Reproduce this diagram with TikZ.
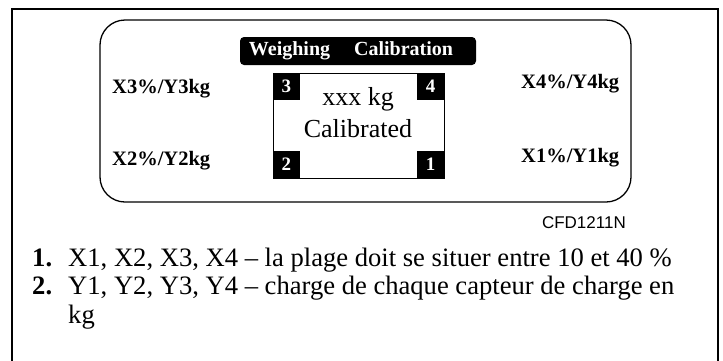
\documentclass[tikz,border=0pt]{standalone}
\usepackage{fontspec}
\setmainfont{Liberation Serif}
\setsansfont{Liberation Sans}
\usetikzlibrary{positioning}

\tikzset{
	cornerbox/.style={fill=black, text=white, font=\fontsize{19}{19}\selectfont\bfseries, minimum size=27pt, inner sep=0pt},
	loadlabel/.style={font=\fontsize{20.5}{20.5}\selectfont\bfseries, inner sep=0pt, anchor=base west},
	screentext/.style={font=\fontsize{26}{26}\selectfont, inner sep=0pt, anchor=base},
	listitem/.style={font=\fontsize{26.6}{26.6}\selectfont, inner sep=0pt, anchor=base west},
}

\begin{document}
\begin{tikzpicture}[x=1pt, y=-1pt]
	\useasboundingbox (0,0) rectangle (723,360);

	% frame, open at the bottom
	\draw[line width=2pt] (12,365) -- (12,9) -- (718,9) -- (718,365);

	% display panel
	\draw[line width=1.3pt, rounded corners=25pt] (100,20) rectangle (631,202);
	\node[fill=black, rounded corners=4pt, minimum width=236pt, minimum height=28pt, inner sep=0pt] (title) at (358,51) {};
	\node[text=white, font=\fontsize{20}{20}\selectfont\bfseries, inner sep=0pt] (titletext) at (351,51) {Weighing\hspace{24pt}Calibration};

	\node[draw, line width=0.8pt, minimum width=171pt, minimum height=105pt, inner sep=0pt] (disp) at (358.5,125.5) {};
	\node[cornerbox, anchor=north west] (c3) at (disp.north west) {3};
	\node[cornerbox, anchor=north east] (c4) at (disp.north east) {4};
	\node[cornerbox, anchor=south west] (c2) at (disp.south west) {2};
	\node[cornerbox, anchor=south east] (c1) at (disp.south east) {1};

	\node[screentext] (weight) at (358,105) {xxx kg};
	\node[screentext] (state) at (358,137) {Calibrated};

	\node[loadlabel] (lc3) at (112,93) {X3\%/Y3kg};
	\node[loadlabel] (lc2) at (112,165) {X2\%/Y2kg};
	\node[loadlabel] (lc4) at (521,88) {X4\%/Y4kg};
	\node[loadlabel] (lc1) at (521,162) {X1\%/Y1kg};

	\node[font=\sffamily\fontsize{17}{17}\selectfont, inner sep=0pt, anchor=base east] (ref) at (626,228) {CFD1211N};

	% legend
	\node[listitem, font=\fontsize{26.6}{26.6}\selectfont\bfseries] (n1) at (32,266) {1.};
	\node[listitem] (t1) at (68,266) {X1, X2, X3, X4 – la plage doit se situer entre 10 et 40~\%};
	\node[listitem, font=\fontsize{26.6}{26.6}\selectfont\bfseries] (n2) at (32,294) {2.};
	\node[listitem] (t2) at (68,294) {Y1, Y2, Y3, Y4 – charge de chaque capteur de charge en};
	\node[listitem] (t3) at (68,323) {kg};
\end{tikzpicture}
\end{document}
